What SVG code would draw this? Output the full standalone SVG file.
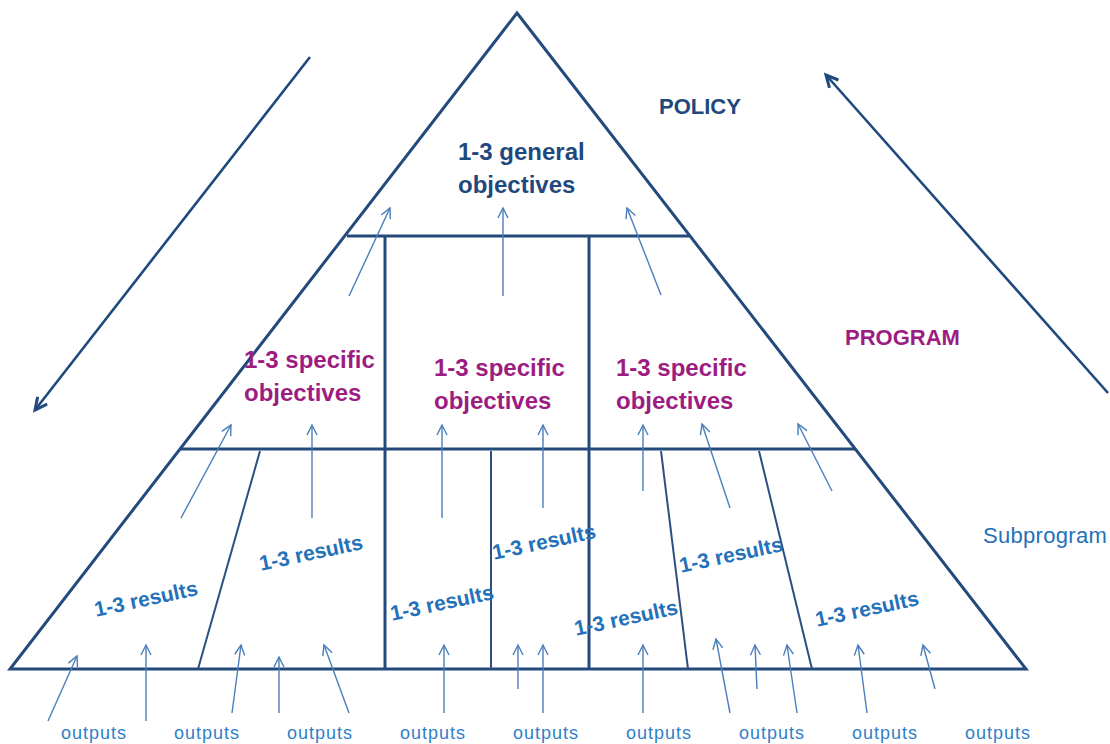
<svg xmlns="http://www.w3.org/2000/svg" width="1110" height="744" viewBox="0 0 1110 744">
<defs>
<marker id="sa" markerUnits="userSpaceOnUse" markerWidth="14" markerHeight="14" refX="11" refY="6" orient="auto">
<path d="M1,1 L11,6 L1,11" fill="none" stroke="#4a7ebb" stroke-width="1.4"/>
</marker>
<marker id="ba" markerUnits="userSpaceOnUse" markerWidth="18" markerHeight="18" refX="14" refY="8" orient="auto">
<path d="M2,2 L14,8 L2,14" fill="none" stroke="#1f497d" stroke-width="3"/>
</marker>
<style>
.outl{fill:none;stroke:#244a7c;stroke-width:3;stroke-linejoin:miter}
.thick{stroke:#244a7c;stroke-width:3}
.thin{stroke:#2b4f80;stroke-width:2}
.sarr{stroke:#4a7ebb;stroke-width:1.4;fill:none;marker-end:url(#sa)}
.barr{stroke:#1f497d;stroke-width:2.6;fill:none;marker-end:url(#ba)}
.gen{font-family:"Liberation Sans",Arial,sans-serif;font-weight:bold;font-size:24px;fill:#1f497d}
.spec{font-family:"Liberation Sans",Arial,sans-serif;font-weight:bold;font-size:24px;fill:#9c1c82}
.res{font-family:"Liberation Sans",Arial,sans-serif;font-weight:bold;font-size:21px;fill:#2471b9;text-anchor:middle}
.out{font-family:"Liberation Sans",Arial,sans-serif;font-size:18px;fill:#2f80c8;text-anchor:middle;letter-spacing:1px}
.lvl{font-family:"Liberation Sans",Arial,sans-serif;font-weight:bold;font-size:22px}
</style>
</defs>
<rect width="1110" height="744" fill="#ffffff"/>

<g id="pyramid">
<polygon class="outl" points="517,13 1026,669 10,669"/>
<line class="thick" x1="347" y1="236" x2="689" y2="236"/>
<line class="thick" x1="180" y1="449" x2="855" y2="449"/>
<line class="thick" x1="385" y1="236" x2="385" y2="669"/>
<line class="thick" x1="589" y1="236" x2="589" y2="669"/>
<line class="thin" x1="260" y1="451" x2="198" y2="669"/>
<line class="thin" x1="491" y1="451" x2="491" y2="669"/>
<line class="thin" x1="661" y1="451" x2="688" y2="669"/>
<line class="thin" x1="759" y1="451" x2="812" y2="669"/>
</g>

<g id="general-objectives">
<text class="gen" x="458" y="160">1-3 general</text>
<text class="gen" x="458" y="193">objectives</text>
</g>

<g id="specific-objectives-1">
<text class="spec" x="244" y="368">1-3 specific</text>
<text class="spec" x="244" y="401">objectives</text>
</g>
<g id="specific-objectives-2">
<text class="spec" x="434" y="376">1-3 specific</text>
<text class="spec" x="434" y="409">objectives</text>
</g>
<g id="specific-objectives-3">
<text class="spec" x="616" y="376">1-3 specific</text>
<text class="spec" x="616" y="409">objectives</text>
</g>

<g id="results-1"><text class="res" transform="translate(146,599) rotate(-12)" y="7">1-3 results</text></g>
<g id="results-2"><text class="res" transform="translate(311,553) rotate(-12)" y="7">1-3 results</text></g>
<g id="results-3"><text class="res" transform="translate(442,603) rotate(-12)" y="7">1-3 results</text></g>
<g id="results-4"><text class="res" transform="translate(544,542) rotate(-12)" y="7">1-3 results</text></g>
<g id="results-5"><text class="res" transform="translate(626,618) rotate(-12)" y="7">1-3 results</text></g>
<g id="results-6"><text class="res" transform="translate(731,555) rotate(-12)" y="7">1-3 results</text></g>
<g id="results-7"><text class="res" transform="translate(867,609) rotate(-12)" y="7">1-3 results</text></g>

<g id="level-labels">
<text class="lvl" x="659" y="114" fill="#1f497d">POLICY</text>
<text class="lvl" x="845" y="345" fill="#9c1c82" font-size="23px">PROGRAM</text>
<text x="983" y="543" font-family="Liberation Sans, Arial, sans-serif" font-size="22px" letter-spacing="0.3" fill="#2471b9">Subprogram</text>
</g>

<g id="outputs">
<text class="out" x="94" y="739">outputs</text>
<text class="out" x="207" y="739">outputs</text>
<text class="out" x="320" y="739">outputs</text>
<text class="out" x="433" y="739">outputs</text>
<text class="out" x="546" y="739">outputs</text>
<text class="out" x="659" y="739">outputs</text>
<text class="out" x="772" y="739">outputs</text>
<text class="out" x="885" y="739">outputs</text>
<text class="out" x="998" y="739">outputs</text>
</g>

<g id="connectors">
<line class="barr" x1="310" y1="57" x2="35" y2="410"/>
<line class="barr" x1="1108" y1="393" x2="826" y2="75"/>

<line class="sarr" x1="349" y1="296" x2="390" y2="208"/>
<line class="sarr" x1="503" y1="296" x2="503" y2="208"/>
<line class="sarr" x1="661" y1="295" x2="627" y2="208"/>

<line class="sarr" x1="181" y1="518" x2="231" y2="425"/>
<line class="sarr" x1="312" y1="518" x2="312" y2="425"/>
<line class="sarr" x1="442" y1="518" x2="442" y2="425"/>
<line class="sarr" x1="543" y1="508" x2="543" y2="425"/>
<line class="sarr" x1="643" y1="491" x2="643" y2="425"/>
<line class="sarr" x1="730" y1="508" x2="702" y2="424"/>
<line class="sarr" x1="832" y1="491" x2="798" y2="424"/>

<line class="sarr" x1="48" y1="721" x2="77" y2="656"/>
<line class="sarr" x1="146" y1="721" x2="146" y2="645"/>
<line class="sarr" x1="232" y1="713" x2="241" y2="645"/>
<line class="sarr" x1="279" y1="713" x2="279" y2="657"/>
<line class="sarr" x1="349" y1="713" x2="324" y2="645"/>
<line class="sarr" x1="444" y1="713" x2="444" y2="645"/>
<line class="sarr" x1="518" y1="689" x2="518" y2="645"/>
<line class="sarr" x1="543" y1="713" x2="543" y2="645"/>
<line class="sarr" x1="643" y1="713" x2="643" y2="645"/>
<line class="sarr" x1="730" y1="713" x2="716" y2="639"/>
<line class="sarr" x1="757" y1="689" x2="755" y2="645"/>
<line class="sarr" x1="797" y1="713" x2="787" y2="645"/>
<line class="sarr" x1="867" y1="713" x2="858" y2="645"/>
<line class="sarr" x1="935" y1="689" x2="923" y2="645"/>
</g>
</svg>
